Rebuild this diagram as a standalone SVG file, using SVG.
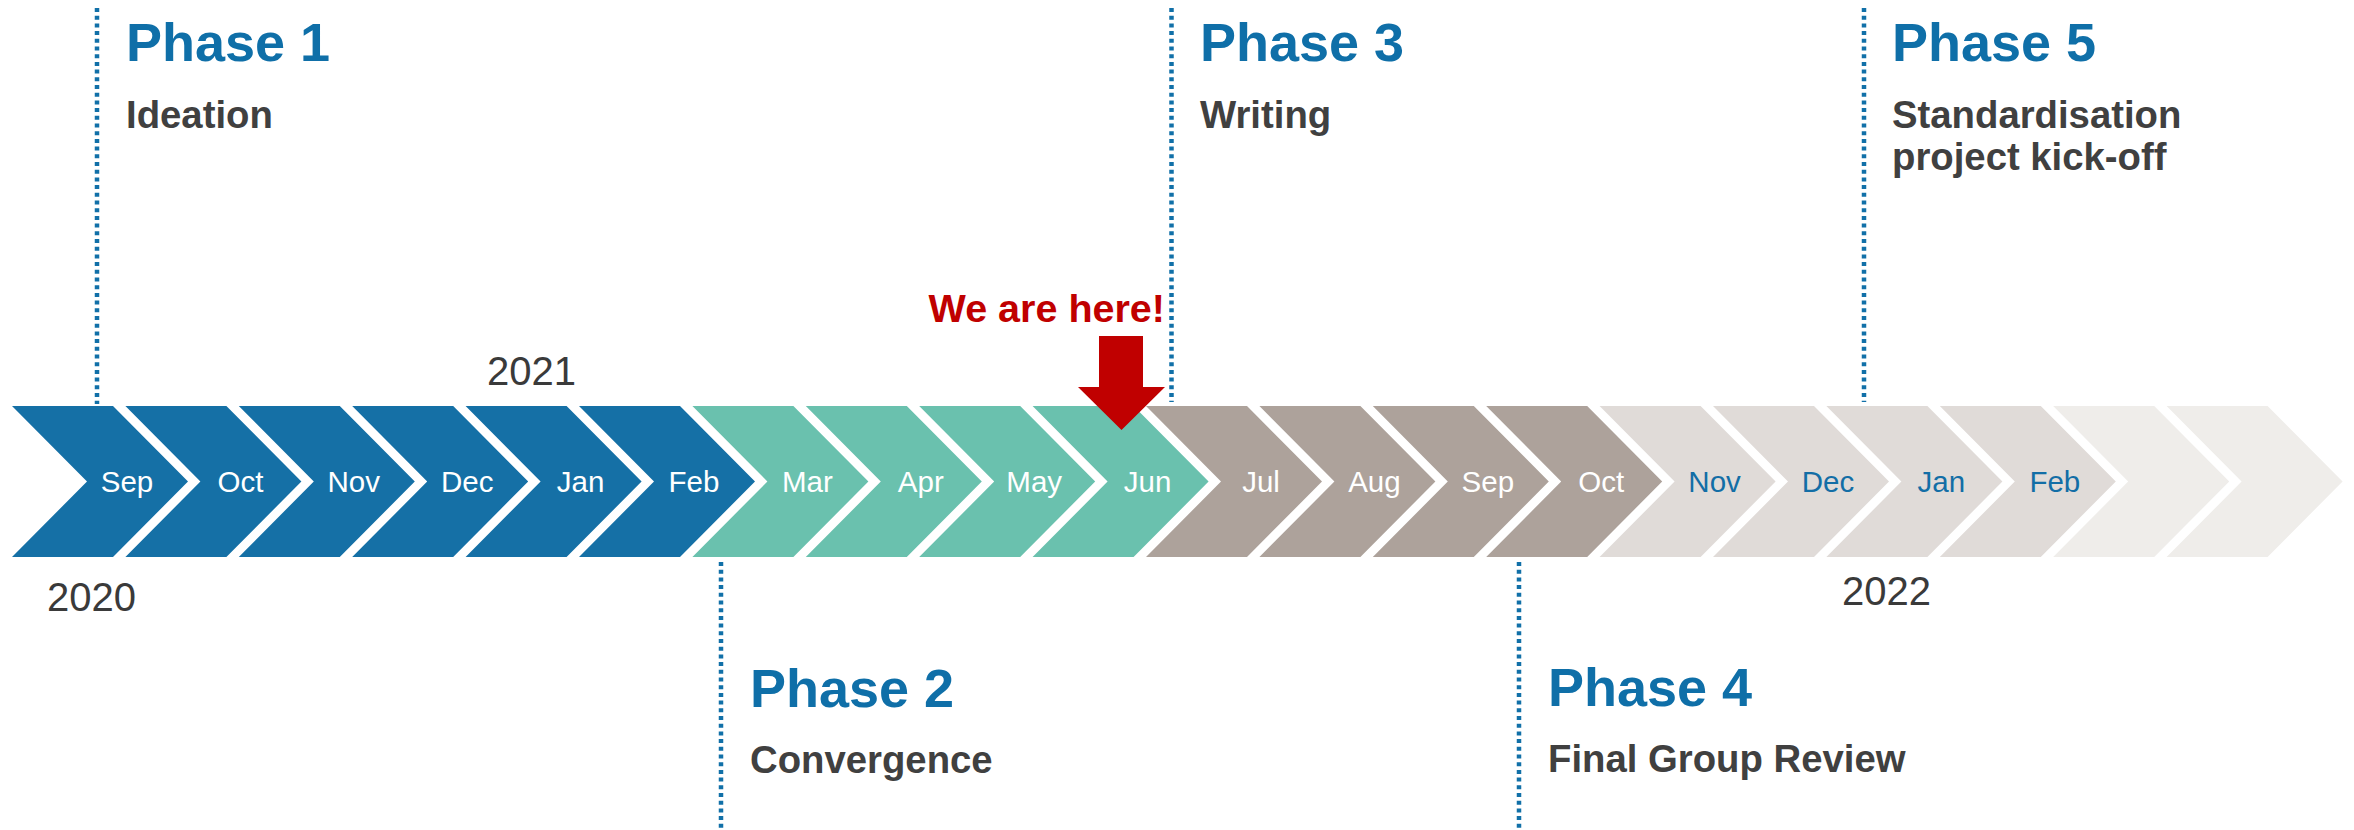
<svg xmlns="http://www.w3.org/2000/svg" width="2354" height="830" viewBox="0 0 2354 830">
<style>
.blue{fill:#1570A6}.teal{fill:#6AC1AE}.taupe{fill:#ADA29B}.light{fill:#E0DBD8}.lighter{fill:#EFEDEA}
.m{font-family:"Liberation Sans",Arial,sans-serif;font-size:29.5px;text-anchor:middle}
.mw{fill:#FFFFFF}.mb{fill:#136EA6}
.yr{font-family:"Liberation Sans",Arial,sans-serif;font-size:40px;fill:#3A3A3A}
.ph{font-family:"Liberation Sans",Arial,sans-serif;font-size:54px;font-weight:bold;fill:#0F6FA8}
.sub{font-family:"Liberation Sans",Arial,sans-serif;font-size:38.3px;font-weight:bold;fill:#404040}
.dot{stroke:#1170A8;stroke-width:4.5;stroke-dasharray:4 3.7;fill:none}
</style>
<defs>
<polygon id="chev" points="0,406 101,406 176,481.5 101,557 0,557 75,481.5"/>
</defs>
<rect width="2354" height="830" fill="#FFFFFF"/>
<g id="connectors">
<line class="dot" x1="97" y1="8" x2="97" y2="404"/>
<line class="dot" x1="1171.5" y1="8" x2="1171.5" y2="402"/>
<line class="dot" x1="1864" y1="8" x2="1864" y2="402"/>
<line class="dot" x1="721" y1="562" x2="721" y2="830"/>
<line class="dot" x1="1519" y1="562" x2="1519" y2="830"/>
</g>
<g id="timeline">
<g id="m01"><use href="#chev" x="12" class="blue"/><text class="m mw" x="127" y="492">Sep</text></g>
<g id="m02"><use href="#chev" x="125.4" class="blue"/><text class="m mw" x="240.4" y="492">Oct</text></g>
<g id="m03"><use href="#chev" x="238.8" class="blue"/><text class="m mw" x="353.8" y="492">Nov</text></g>
<g id="m04"><use href="#chev" x="352.2" class="blue"/><text class="m mw" x="467.2" y="492">Dec</text></g>
<g id="m05"><use href="#chev" x="465.6" class="blue"/><text class="m mw" x="580.6" y="492">Jan</text></g>
<g id="m06"><use href="#chev" x="579" class="blue"/><text class="m mw" x="694" y="492">Feb</text></g>
<g id="m07"><use href="#chev" x="692.4" class="teal"/><text class="m mw" x="807.4" y="492">Mar</text></g>
<g id="m08"><use href="#chev" x="805.8" class="teal"/><text class="m mw" x="920.8" y="492">Apr</text></g>
<g id="m09"><use href="#chev" x="919.2" class="teal"/><text class="m mw" x="1034.2" y="492">May</text></g>
<g id="m10"><use href="#chev" x="1032.6" class="teal"/><text class="m mw" x="1147.6" y="492">Jun</text></g>
<g id="m11"><use href="#chev" x="1146" class="taupe"/><text class="m mw" x="1261" y="492">Jul</text></g>
<g id="m12"><use href="#chev" x="1259.4" class="taupe"/><text class="m mw" x="1374.4" y="492">Aug</text></g>
<g id="m13"><use href="#chev" x="1372.8" class="taupe"/><text class="m mw" x="1487.8" y="492">Sep</text></g>
<g id="m14"><use href="#chev" x="1486.2" class="taupe"/><text class="m mw" x="1601.2" y="492">Oct</text></g>
<g id="m15"><use href="#chev" x="1599.6" class="light"/><text class="m mb" x="1714.6" y="492">Nov</text></g>
<g id="m16"><use href="#chev" x="1713" class="light"/><text class="m mb" x="1828" y="492">Dec</text></g>
<g id="m17"><use href="#chev" x="1826.4" class="light"/><text class="m mb" x="1941.4" y="492">Jan</text></g>
<g id="m18"><use href="#chev" x="1939.8" class="light"/><text class="m mb" x="2054.8" y="492">Feb</text></g>
<g id="m19"><use href="#chev" x="2053.2" class="lighter"/></g>
<g id="m20"><use href="#chev" x="2166.6" class="lighter"/></g>
</g>
<g id="years">
<text class="yr" x="47" y="611">2020</text>
<text class="yr" x="487" y="385">2021</text>
<text class="yr" x="1842" y="605">2022</text>
</g>
<g id="here">
<text x="1165" y="322" text-anchor="end" font-family="Liberation Sans, Arial, sans-serif" font-size="39.5" font-weight="bold" fill="#C00000">We are here!</text>
<polygon points="1099,336 1143,336 1143,387 1165,387 1121.5,430 1078,387 1099,387" fill="#C00000"/>
</g>
<g id="phase1"><text class="ph" x="126" y="61">Phase 1</text><text class="sub" x="126" y="128">Ideation</text></g>
<g id="phase2"><text class="ph" x="750" y="707">Phase 2</text><text class="sub" x="750" y="773">Convergence</text></g>
<g id="phase3"><text class="ph" x="1200" y="61">Phase 3</text><text class="sub" x="1200" y="128">Writing</text></g>
<g id="phase4"><text class="ph" x="1548" y="706">Phase 4</text><text class="sub" x="1548" y="772">Final Group Review</text></g>
<g id="phase5"><text class="ph" x="1892" y="61">Phase 5</text><text class="sub" x="1892" y="128">Standardisation</text><text class="sub" x="1892" y="170">project kick-off</text></g>
</svg>
